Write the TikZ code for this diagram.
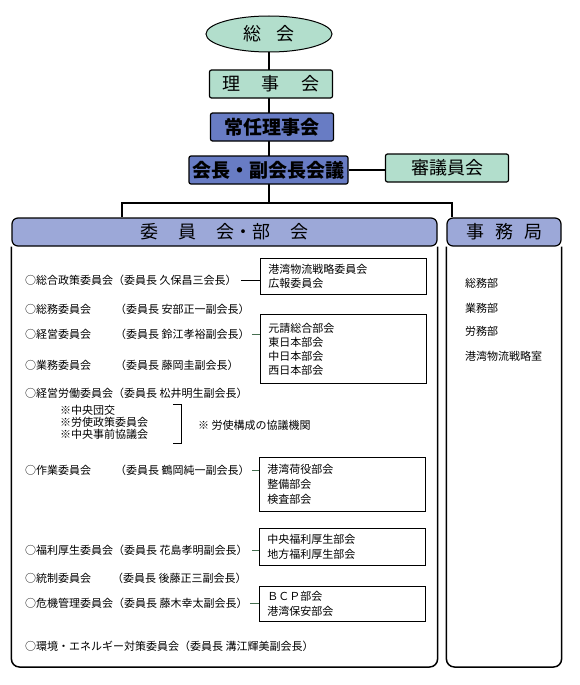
\documentclass[tikz,border=0pt]{standalone}
\usepackage{fontspec}
\setmainfont{Noto Sans CJK JP}
\usetikzlibrary{positioning,shapes.geometric,backgrounds}
\definecolor{orgmint}{RGB}{178,222,204}
\definecolor{orgblue}{RGB}{104,124,196}
\definecolor{orglav}{RGB}{156,168,216}
\definecolor{linkgreen}{RGB}{70,110,80}

\begin{document}
\begin{tikzpicture}[
    x=1pt,y=-1pt,
    topbox/.style={rectangle,rounded corners=2pt,draw=black,line width=1.2pt,
      minimum height=28pt,inner sep=0pt,font=\fontsize{18}{20}\selectfont},
    mintbox/.style={topbox,fill=orgmint},
    bluebox/.style={topbox,fill=orgblue,font=\fontsize{19}{21}\selectfont\bfseries},
    hdrbox/.style={rectangle,rounded corners=6pt,draw=black,line width=1.2pt,fill=orglav,
      minimum height=28pt,inner sep=0pt,font=\fontsize{18}{20}\selectfont},
    panel/.style={line width=1.5pt,rounded corners=8pt},
    item/.style={anchor=west,inner sep=0pt,font=\fontsize{11}{13}\selectfont},
    note/.style={anchor=west,inner sep=0pt,font=\fontsize{11}{13}\selectfont},
    subbox/.style={rectangle,draw=black,line width=0.8pt,anchor=north west,
      minimum width=166pt,text width=150pt,align=left,inner xsep=8pt,
      font=\fontsize{11}{14}\selectfont},
    trunk/.style={line width=2.5pt},
    link/.style={line width=0.8pt,draw=black},
    glink/.style={line width=0.8pt,draw=linkgreen}
  ]
  \useasboundingbox (0,0) rectangle (579,685);

  % top of the chart
  \node[ellipse,draw,line width=1pt,fill=orgmint,minimum width=126pt,minimum height=36pt,
    inner sep=0pt,font=\fontsize{18}{20}\selectfont] (sokai) at (269,34) {総\hspace{15pt}会};
  \node[mintbox,minimum width=123pt] (rijikai) at (271,84) {理\hspace{22pt}事\hspace{22pt}会};
  \node[bluebox,minimum width=123pt] (jonin) at (272,127) {常任理事会};
  \node[bluebox,minimum width=159pt] (kaicho) at (268.5,170) {会長・副会長会議};
  \node[mintbox,minimum width=123pt] (shingiin) at (447,168) {審議員会};
  \coordinate (split) at (269,203);
  \coordinate (lbranch) at (122,203);
  \coordinate (rbranch) at (452,203);

  % the two panels
  \node[hdrbox,minimum width=425pt] (iinhdr) at (224.5,232)
    {委\hspace{20pt}員\hspace{20pt}会・部\hspace{20pt}会};
  \node[hdrbox,minimum width=114pt] (jimuhdr) at (504,232)
    {事\hspace{11pt}務\hspace{11pt}局};
  \draw[panel] (iinhdr.south west) -- (iinhdr.south west |- 0,667)
    -- (iinhdr.south east |- 0,667) -- (iinhdr.south east);
  \draw[panel] (jimuhdr.south west) -- (jimuhdr.south west |- 0,667)
    -- (jimuhdr.south east |- 0,667) -- (jimuhdr.south east);

  % committees
  \node[item] (seisaku) at (25,280) {○総合政策委員会（委員長 久保昌三会長）};
  \node[item] (somu) at (25,309) {\makebox[90pt][l]{○総務委員会}（委員長 安部正一副会長）};
  \node[item] (keiei) at (25,334) {\makebox[90pt][l]{○経営委員会}（委員長 鈴江孝裕副会長）};
  \node[item] (gyomu) at (25,365) {\makebox[90pt][l]{○業務委員会}（委員長 藤岡圭副会長）};
  \node[item] (rodo) at (25,393) {○経営労働委員会（委員長 松井明生副会長）};
  \node[note] (dankou) at (60,410) {※中央団交};
  \node[note,below=1.5pt of dankou.south west,anchor=north west] (roshi) {※労使政策委員会};
  \node[note,below=1.5pt of roshi.south west,anchor=north west] (jizen) {※中央事前協議会};
  \node[note] (kyogi) at (198,425) {※ 労使構成の協議機関};
  \node[item] (sagyo) at (25,470) {\makebox[90pt][l]{○作業委員会}（委員長 鶴岡純一副会長）};
  \node[item] (fukuri) at (25,550) {○福利厚生委員会（委員長 花島孝明副会長）};
  \node[item] (tosei) at (25,578) {\makebox[87pt][l]{○統制委員会}（委員長 後藤正三副会長）};
  \node[item] (kiki) at (25,603) {○危機管理委員会（委員長 藤木幸太副会長）};
  \node[item] (kankyo) at (25,646) {○環境・エネルギー対策委員会（委員長 溝江輝美副会長）};

  % sub committees
  \node[subbox,minimum height=36pt] (seisakusub) at (260,258)
    {港湾物流戦略委員会\\広報委員会};
  \node[subbox,minimum height=69pt] (keieisub) at (260,314)
    {元請総合部会\\東日本部会\\中日本部会\\西日本部会};
  \node[subbox,minimum height=54pt,font=\fontsize{11}{15}\selectfont] (sagyosub) at (259,457)
    {港湾荷役部会\\整備部会\\検査部会};
  \node[subbox,minimum height=37pt,font=\fontsize{11}{15}\selectfont] (fukurisub) at (259,528)
    {中央福利厚生部会\\地方福利厚生部会};
  \node[subbox,minimum height=35pt,font=\fontsize{11}{15}\selectfont] (kikisub) at (259,586)
    {ＢＣＰ部会\\港湾保安部会};

  % secretariat
  \node[item] (somubu) at (465,283) {総務部};
  \node[item] (gyomubu) at (465,308) {業務部};
  \node[item] (romubu) at (465,331) {労務部};
  \node[item] (senryaku) at (465,356) {港湾物流戦略室};

  \begin{scope}[on background layer]
    \draw[trunk] (sokai.south) -- (split);
    \draw[trunk] (kaicho.east) -- (kaicho.east -| shingiin.west);
    \draw[trunk] (iinhdr.north -| lbranch) -- (lbranch) -- (rbranch) -- (jimuhdr.north -| rbranch);
  \end{scope}
  \draw[link] ([xshift=4pt]seisaku.east) -- (seisaku.east -| seisakusub.west);
  \draw[glink] ([xshift=2pt]keiei.east) -- (keiei.east -| keieisub.west);
  \draw[glink] ([xshift=2pt]sagyo.east) -- (sagyo.east -| sagyosub.west);
  \draw[glink] ([xshift=4pt]fukuri.east) -- (fukuri.east -| fukurisub.west);
  \draw[glink] ([xshift=2pt]kiki.east) -- (kiki.east -| kikisub.west);
  \draw[line width=0.8pt] (173,404) -- (181,404) -- (181,443) -- (173,443);
\end{tikzpicture}
\end{document}
